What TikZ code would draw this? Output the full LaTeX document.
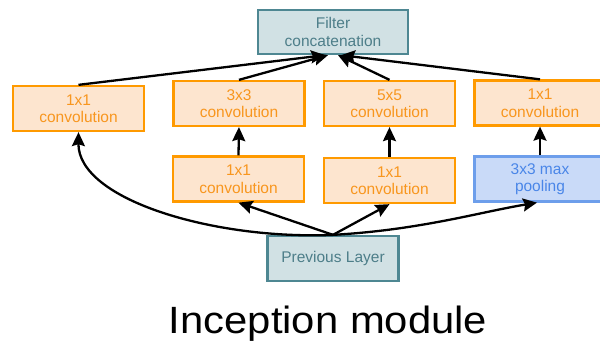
\documentclass[tikz,border=0pt]{standalone}
\usepackage{fontspec}
\setmainfont{Liberation Sans}
\usetikzlibrary{arrows.meta,calc}
\definecolor{orfill}{HTML}{FDE5CF}
\definecolor{ordraw}{HTML}{FF9A00}
\definecolor{ortext}{HTML}{F8961E}
\definecolor{tlfill}{HTML}{D1E1E4}
\definecolor{tldraw}{HTML}{4E8792}
\definecolor{tltext}{HTML}{4D7E89}
\definecolor{blfill}{HTML}{C9DAF8}
\definecolor{bldraw}{HTML}{6D9EEB}
\definecolor{bltext}{HTML}{4A86E8}
\tikzset{
  box/.style={rectangle, line width=2.3pt, minimum width=131pt, minimum height=45pt, align=center, inner sep=0pt, font=\fontsize{15.5}{17.5}\selectfont},
  conv/.style={box, fill=orfill, draw=ordraw, text=ortext},
  teal/.style={box, fill=tlfill, draw=tldraw, text=tltext},
  pool/.style={box, fill=blfill, draw=bldraw, text=bltext},
  arr/.style={line width=2.3pt, -{Stealth[length=14pt,width=13pt,inset=2pt]}},
}
\begin{document}
\begin{tikzpicture}[x=1pt,y=-1pt]
\useasboundingbox (0,0) rectangle (600,345);
\clip (0,0) rectangle (600,345);
\node[teal, minimum width=150pt, minimum height=44pt] (concat) at (333,32) {Filter\\concatenation};
\node[conv] (c11L) at (78.5,108.5) {1x1\\convolution};
\node[conv] (c33) at (239,103.5) {3x3\\convolution};
\node[conv] (c55) at (389.5,103.5) {5x5\\convolution};
\node[conv] (c11R) at (540,103) {1x1\\convolution};
\node[conv] (r33) at (238.5,179) {1x1\\convolution};
\node[conv] (r55) at (389.5,180.5) {1x1\\convolution};
\node[pool] (pl) at (540,179) {3x3 max\\pooling};
\node[teal] (prev) at (333,258.5) {Previous Layer};
\node[font=\fontsize{38}{42}\selectfont, inner sep=0pt, anchor=base] (title) at (328,333) {\scalebox{1.1}[1]{Inception module}};
% to concatenation
\draw[arr] (c11L.north) -- ($(concat.south)+(-8,0)$);
\draw[arr] (c33.north) -- ($(concat.south)+(-5,0)$);
\draw[arr] (c55.north) -- ($(concat.south)+(5,0)$);
\draw[arr] (c11R.north) -- ($(concat.south)+(8,0)$);
% verticals
\draw[arr] (r33.north) -- (c33.south);
\draw[arr] (r55.north) -- (c55.south);
\draw[arr] (pl.north) -- (c11R.south);
% from previous layer
\draw[arr] (prev.north) .. controls (215,240) and (78,200) .. (c11L.south);
\draw[arr] (prev.north) -- (r33.south);
\draw[arr] (prev.north) -- (r55.south);
\draw[arr] (prev.north) .. controls (420,230) and (480,212) .. ($(pl.south)+(-3,0)$);
\end{tikzpicture}
\end{document}
